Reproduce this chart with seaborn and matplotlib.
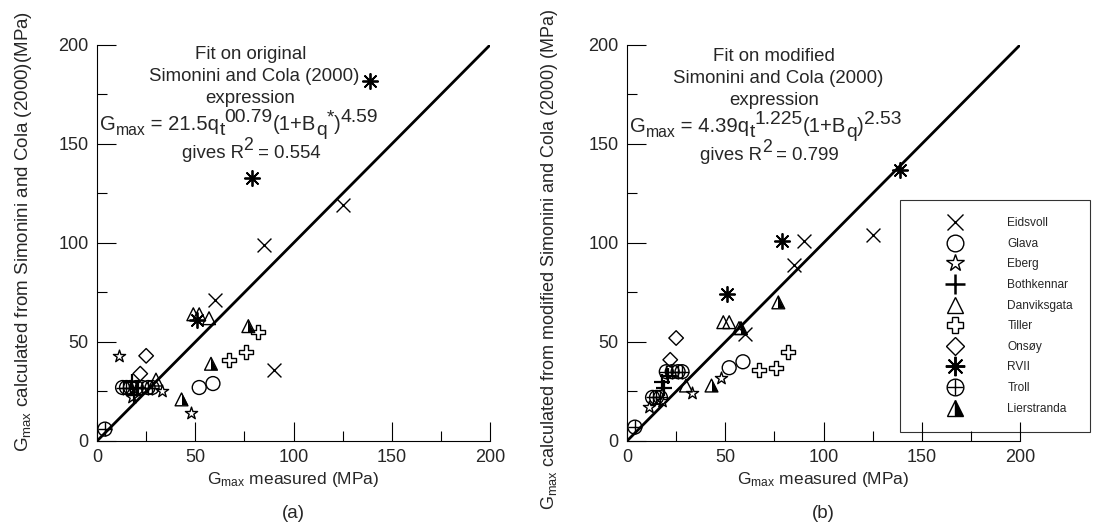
import matplotlib
matplotlib.use('Agg')
import matplotlib.pyplot as plt
from matplotlib.lines import Line2D
from matplotlib.markers import MarkerStyle
from matplotlib.legend_handler import HandlerTuple
from matplotlib.transforms import offset_copy
import seaborn as sns

sns.set_style('white')
plt.rcParams['font.family'] = ['Liberation Sans', 'DejaVu Sans']
plt.rcParams['mathtext.fontset'] = 'custom'
plt.rcParams['mathtext.rm'] = 'Liberation Sans'
plt.rcParams['mathtext.it'] = 'Liberation Sans:italic'

# measured Gmax (x) and calculated Gmax: a = original fit, b = modified fit
eidsvoll_x = [60, 85, 90, 125]
eidsvoll_a = [71, 99, 36, 119]
eidsvoll_b = [54, 89, 101, 104]

glava_x = [52, 59]
glava_a = [27, 29]
glava_b = [37, 40]

eberg_x = [11, 18, 33, 48]
eberg_a = [43, 22, 25, 14]
eberg_b = [17, 20, 24, 32]

bothkennar_x = [18, 19, 21]
bothkennar_a = [30, 23, 27]
bothkennar_b = [30, 27, 33]

danviksgata_x = [30, 49, 52, 57]
danviksgata_a = [31, 64, 64, 62]
danviksgata_b = [28, 60, 60, 57]

tiller_x = [67, 76, 82]
tiller_a = [41, 45, 55]
tiller_b = [36, 37, 45]

onsoy_x = [22, 25]
onsoy_a = [34, 43]
onsoy_b = [41, 52]

rvii_x = [51, 79, 139]
rvii_a = [61, 133, 182]
rvii_b = [74, 101, 137]

troll_x = [4, 13, 15, 17, 20, 23, 26, 28]
troll_a = [6, 27, 27, 27, 27, 27, 27, 27]
troll_b = [7, 22, 22, 22, 35, 35, 35, 35]

lierstranda_x = [43, 58, 77]
lierstranda_a = [21, 39, 58]
lierstranda_b = [28, 57, 70]

site_names = ['Eidsvoll', 'Glava', 'Eberg', 'Bothkennar', 'Danviksgata',
              'Tiller', 'Onsøy', 'RVII', 'Troll', 'Lierstranda']
site_x = [eidsvoll_x, glava_x, eberg_x, bothkennar_x, danviksgata_x,
          tiller_x, onsoy_x, rvii_x, troll_x, lierstranda_x]
site_a = [eidsvoll_a, glava_a, eberg_a, bothkennar_a, danviksgata_a,
          tiller_a, onsoy_a, rvii_a, troll_a, lierstranda_a]
site_b = [eidsvoll_b, glava_b, eberg_b, bothkennar_b, danviksgata_b,
          tiller_b, onsoy_b, rvii_b, troll_b, lierstranda_b]

asterisk = (8, 2, 0)
half_tri = MarkerStyle('^', fillstyle='right')

# marker layers for each site: (marker, size, facecolor, linewidth)
styles = {
    'Eidsvoll': [('x', 100, 'black', 1.0)],
    'Glava': [('o', 100, 'none', 1.0)],
    'Eberg': [('*', 85, 'white', 1.0)],
    'Bothkennar': [('+', 120, 'black', 1.6)],
    'Danviksgata': [('^', 85, 'none', 1.0)],
    'Tiller': [('P', 95, 'white', 1.0)],
    'Onsøy': [('D', 55, 'none', 1.0)],
    'RVII': [(asterisk, 120, 'black', 1.3)],
    'Troll': [('o', 100, 'none', 1.0), ('+', 100, 'black', 1.0)],
    'Lierstranda': [(half_tri, 85, 'black', 0.0), ('^', 85, 'none', 1.0)],
}


def draw_panel(ax, calc):
    for name, xs, ys in zip(site_names, site_x, calc):
        for mk, s, fc, lw in styles[name]:
            sns.scatterplot(x=xs, y=ys, marker=mk, s=s, facecolor=fc,
                            edgecolor='black', color='black', linewidth=lw,
                            ax=ax, zorder=3)
    sns.lineplot(x=[0, 200], y=[0, 200], color='black', linewidth=2, ax=ax)
    ax.set_xlim(0, 200)
    ax.set_ylim(0, 200)
    ax.set_xticks([0, 50, 100, 150, 200])
    ax.set_yticks([0, 50, 100, 150, 200])
    ax.set_xticks([25, 75, 125, 175], minor=True)
    ax.set_yticks([25, 75, 125, 175], minor=True)
    ax.tick_params(which='major', direction='in', length=14, width=0.8,
                   labelsize=13, color='black', pad=6)
    ax.tick_params(which='minor', direction='in', length=7, width=0.8,
                   color='black')
    ax.tick_params(axis='x', which='both', bottom=True)
    ax.tick_params(axis='y', which='both', left=True)
    sns.despine(ax=ax)
    for sp in ['left', 'bottom']:
        ax.spines[sp].set_color('black')
        ax.spines[sp].set_linewidth(0.8)
    ax.set_xlabel(r'G$_{\mathrm{max}}$ measured (MPa)', fontsize=12.5, labelpad=3)


def rich_text(ax, x, y, parts, size):
    # parts: (string, kind) with kind 'n' normal, 'b' subscript, 'p' superscript
    fig = ax.figure
    renderer = fig.canvas.get_renderer()
    dx = 0.0
    for s, kind in parts:
        if kind == 'n':
            fs, dy = size, 0.0
        elif kind == 'b':
            fs, dy = size * 0.95, -size * 0.22
        elif kind == 'm':
            fs, dy = size * 0.78, -size * 0.22
        else:
            fs, dy = size * 0.95, size * 0.4
        tr = offset_copy(ax.transData, fig=fig, x=dx, y=dy, units='points')
        t = ax.text(x, y, s, fontsize=fs, ha='left', va='baseline', transform=tr)
        w = t.get_window_extent(renderer).width * 72.0 / fig.dpi
        dx += w


fig = plt.figure(figsize=(11, 5.29), dpi=100)
ax1 = fig.add_axes([0.0882, 0.1664, 0.3573, 0.7486])
ax2 = fig.add_axes([0.570, 0.1664, 0.3573, 0.7486])

draw_panel(ax1, site_a)
draw_panel(ax2, site_b)

ax1.set_ylabel(r'G$_{\mathrm{max}}$ calculated from Simonini and Cola (2000)(MPa)',
               fontsize=13.5)
ax1.yaxis.set_label_coords(-0.16, 0.53)
ax2.set_ylabel(r'G$_{\mathrm{max}}$ calculated from modified Simonini and Cola (2000) (MPa)',
               fontsize=13)
ax2.yaxis.set_label_coords(-0.17, 0.46)

fs = 13.4
ffs = 14.6
# panel (a) annotation
ax1.text(78, 195, 'Fit on original', ha='center', va='center', fontsize=fs)
ax1.text(80, 184, 'Simonini and Cola (2000)', ha='center', va='center', fontsize=fs)
ax1.text(78, 173, 'expression', ha='center', va='center', fontsize=fs)
rich_text(ax1, 1.5, 157, [('G', 'n'), ('max', 'm'), (' = 21.5q', 'n'), ('t', 'b'),
                          ('00.79', 'p'), ('(1+B', 'n'), ('q', 'b'), ('*', 'p'),
                          (')', 'n'), ('4.59', 'p')], ffs)
rich_text(ax1, 43, 143, [('gives R', 'n'), ('2', 'p'), (' = 0.554', 'n')], fs)

# panel (b) annotation
ax2.text(75, 194, 'Fit on modified', ha='center', va='center', fontsize=fs)
ax2.text(77, 183, 'Simonini and Cola (2000)', ha='center', va='center', fontsize=fs)
ax2.text(75, 172, 'expression', ha='center', va='center', fontsize=fs)
rich_text(ax2, 1.5, 156, [('G', 'n'), ('max', 'm'), (' = 4.39q', 'n'), ('t', 'b'),
                          ('1.225', 'p'), ('(1+B', 'n'), ('q', 'b'), (')', 'n'),
                          ('2.53', 'p')], ffs)
rich_text(ax2, 37, 142, [('gives R', 'n'), ('2', 'p'), (' = 0.799', 'n')], fs)

fig.text(0.2668, 0.03, '(a)', ha='center', va='center', fontsize=13.5)
fig.text(0.7487, 0.03, '(b)', ha='center', va='center', fontsize=13.5)


# legend with hand-built handles
def h(marker, fc='black', lw=1.0, ms=11, **kw):
    return Line2D([], [], linestyle='', marker=marker, markersize=ms,
                  markerfacecolor=fc, markeredgecolor='black',
                  markeredgewidth=lw, **kw)


handles = [
    h('x', ms=12),
    h('o', fc='none', ms=12),
    h('*', fc='white', ms=13),
    h('+', lw=1.8, ms=14),
    h('^', fc='none', ms=12),
    h('P', fc='white', ms=12),
    h('D', fc='none', ms=9),
    h(asterisk, lw=1.4, ms=14),
    (h('o', fc='none', ms=12), h('+', ms=12)),
    h('^', fc='black', fillstyle='right', markerfacecoloralt='white', ms=12),
]
leg = ax2.legend(handles, site_names, loc='upper left',
                 bbox_to_anchor=(0.695, 0.6086), borderaxespad=0,
                 frameon=True, fancybox=False, fontsize=8.6,
                 handlelength=6.31, handletextpad=1.2, borderpad=1.45,
                 labelspacing=0.72,
                 handler_map={tuple: HandlerTuple(ndivide=1)})
leg.get_frame().set_edgecolor('black')
leg.get_frame().set_linewidth(0.8)
leg.get_frame().set_facecolor('none')

fig.savefig('out.png', dpi=100)
